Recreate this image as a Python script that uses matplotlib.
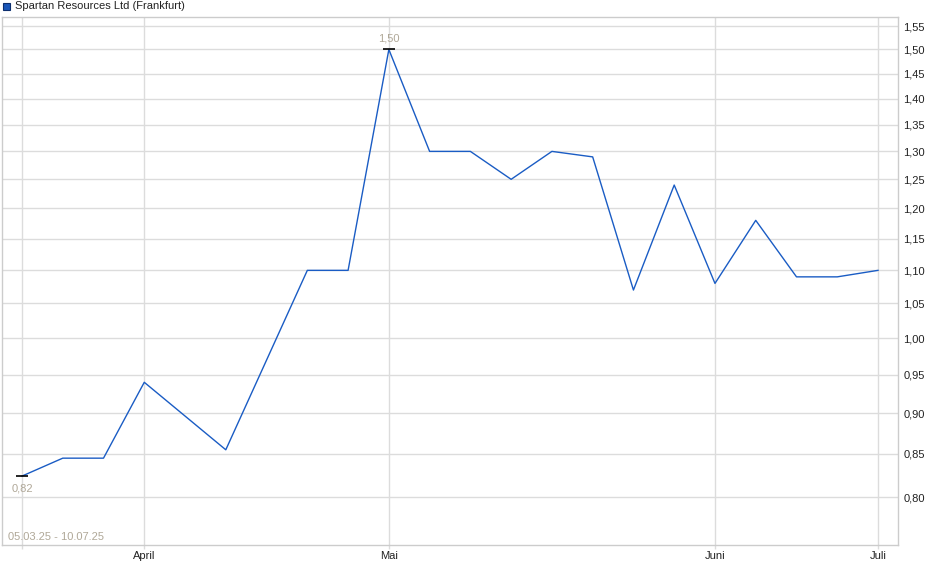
import numpy as np
import matplotlib
matplotlib.use("Agg")
import matplotlib.pyplot as plt
from matplotlib.ticker import FixedLocator, FuncFormatter, NullLocator
from matplotlib.patches import Rectangle

plt.rcParams['font.family'] = ['Liberation Sans', 'DejaVu Sans']

# weekly points, 05.03.25 - 10.07.25 (index = week number)
week_idx = [0, 1, 2, 3, 5, 7, 8, 9, 10, 11, 12, 13, 14, 15, 16, 17, 18, 19, 20, 21]
price = [0.824, 0.845, 0.845, 0.94, 0.855, 1.10, 1.10, 1.50, 1.30, 1.30,
         1.25, 1.30, 1.29, 1.07, 1.24, 1.08, 1.18, 1.09, 1.09, 1.10]

month_pos = [0, 3, 9, 17, 21]
month_labels = ['', 'April', 'Mai', 'Juni', 'Juli']
y_ticks = [0.80, 0.85, 0.90, 0.95, 1.00, 1.05, 1.10, 1.15, 1.20, 1.25,
           1.30, 1.35, 1.40, 1.45, 1.50, 1.55]
title = 'Spartan Resources Ltd (Frankfurt)'
range_text = '05.03.25 - 10.07.25'

W, H = 940, 579
fig = plt.figure(figsize=(W / 100, H / 100), dpi=100)
ax = fig.add_axes([2 / W, (H - 545) / H, 896 / W, 528 / H])

line_col = '#1a5cc4'
grid_col = '#dcdcdc'
label_col = '#b0a898'

ax.plot(week_idx, price, color=line_col, lw=1.0, zorder=3)

ax.set_yscale('log')
ax.set_ylim(0.748, 1.570)
ax.set_xlim(-0.49, 21.49)

ax.yaxis.set_major_locator(FixedLocator(y_ticks))
ax.yaxis.set_minor_locator(NullLocator())
ax.yaxis.set_major_formatter(FuncFormatter(lambda v, p: f'{v:.2f}'.replace('.', ',')))
ax.yaxis.tick_right()
ax.tick_params(axis='y', length=0, pad=4, labelsize=8, labelcolor='#222222')

ax.set_xticks(month_pos)
ax.set_xticklabels(month_labels)
ax.xaxis.set_minor_locator(NullLocator())
ax.tick_params(axis='x', length=3, width=1, color=grid_col, pad=1,
               labelsize=8, labelcolor='#222222')

ax.grid(True, color=grid_col, lw=1)
ax.set_axisbelow(True)
for s in ax.spines.values():
    s.set_color('#cccccc')
    s.set_linewidth(1)

# high / low markers
i_max = int(np.argmax(price))
i_min = int(np.argmin(price))
for i, dy, va in [(i_max, 4, 'bottom'), (i_min, -5, 'top')]:
    ax.plot(week_idx[i], price[i], marker='_', ms=9, mew=1.2, color='black', zorder=4)
    ax.annotate(f'{price[i]:.2f}'.replace('.', ','), (week_idx[i], price[i]),
                xytext=(0, dy), textcoords='offset points', ha='center', va=va,
                fontsize=8, color=label_col)

ax.text(6 / 896, 3 / 528, range_text, transform=ax.transAxes, ha='left', va='bottom',
        fontsize=8, color=label_col)

# legend/title
fig.patches.append(Rectangle((3 / W, 1 - 10 / H), 7 / W, 7 / H, transform=fig.transFigure,
                             facecolor='#1a56b8', edgecolor='#0d2f6e', lw=0.8))
fig.text(15 / W, 1 - 6 / H, title, ha='left', va='center', fontsize=8, color='#222222')

fig.savefig('out.png', dpi=100)
